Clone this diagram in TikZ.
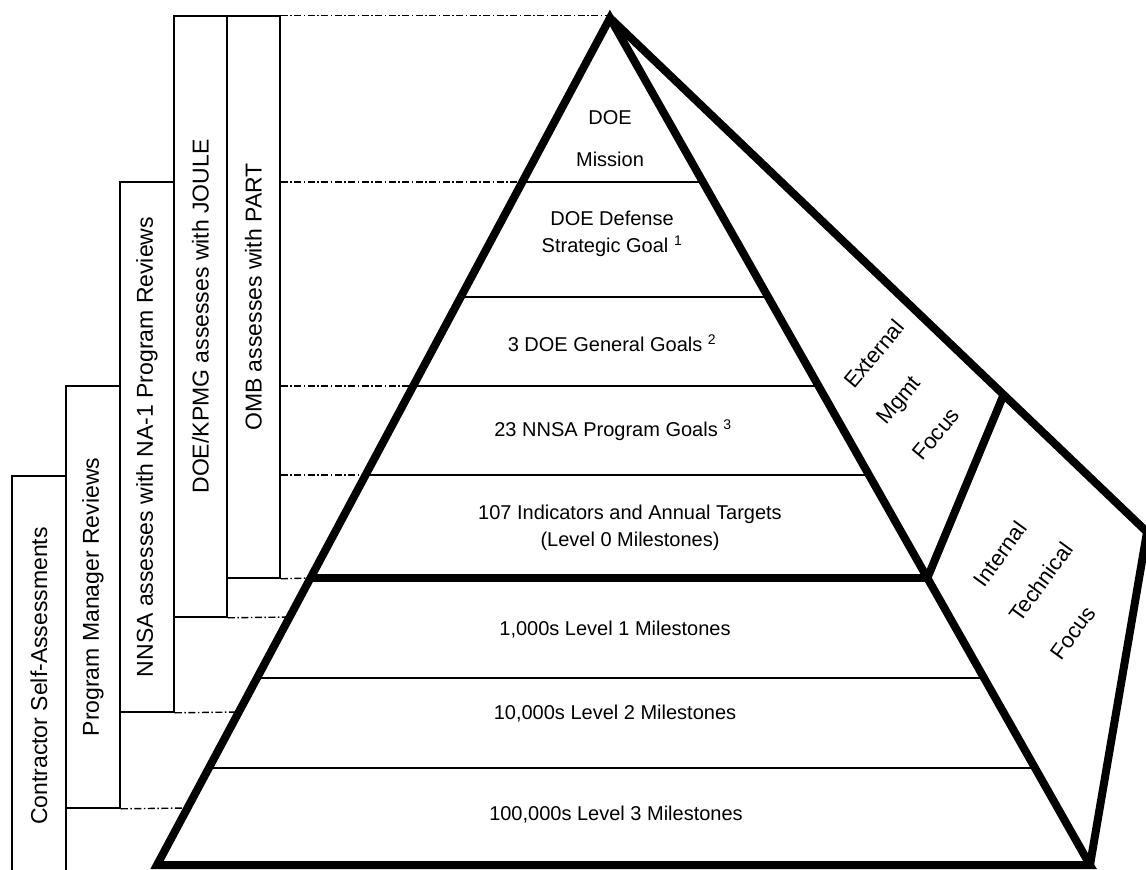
\documentclass[tikz,border=0pt]{standalone}
\usepackage{fontspec}
\setmainfont{Liberation Sans}
\usetikzlibrary{calc,positioning}

\begin{document}
\begin{tikzpicture}[x=1pt, y=-1pt, line join=miter]
\tikzstyle{assess}=[draw=black, line width=1.6pt, inner sep=0pt, font=\fontsize{23}{28}\selectfont]
\tikzstyle{level}=[align=center, font=\fontsize{20}{27}\selectfont]
\tikzstyle{focus}=[inner sep=1pt, font=\fontsize{22}{26}\selectfont]
\tikzstyle{edge}=[line width=8pt]
\tikzstyle{tier}=[line width=1.8pt]
\tikzstyle{link}=[line width=1.4pt, dash pattern=on 7pt off 2.5pt on 1.5pt off 2.5pt]

\useasboundingbox (0,0) rectangle (1146,870);

% who assesses what
\node[assess, minimum width=54, minimum height=400] (self)  at (39,676)    {\rotatebox{90}{Contractor Self-Assessments}};
\node[assess, minimum width=54, minimum height=422] (pm)    at (93,597)    {\rotatebox{90}{Program Manager Reviews}};
\node[assess, minimum width=54, minimum height=530] (nnsa)  at (147,447)   {\rotatebox{90}{NNSA assesses with NA-1 Program Reviews}};
\node[assess, minimum width=53, minimum height=601] (joule) at (200.5,316.5) {\rotatebox{90}{DOE/KPMG assesses with JOULE}};
\node[assess, minimum width=53, minimum height=562] (omb)   at (253.5,297) {\rotatebox{90}{OMB assesses with PART}};

% pyramid corners
\coordinate (apex) at (610,18);
\coordinate (bl) at (157,865);
\coordinate (br) at (1090,865);
\coordinate (rc) at (1147,532);
\coordinate (split) at ($(apex)!0.733!(rc)$);

\foreach \y [count=\i] in {182,297,386,475,578,678,768} {
  \coordinate (L\i) at ($(apex)!{(\y-18)/847}!(bl)$);
  \coordinate (R\i) at ($(apex)!{(\y-18)/847}!(br)$);
}

% dashed ties from the boxes
\draw[link] (omb.north east) -- (omb.north east -| apex);
\foreach \i in {1,3,4}
  \draw[link] (L\i -| omb.east) -- (L\i);
\draw[link] (omb.south east) -- (L5);
\foreach \b/\y in {joule/617, nnsa/712, pm/808}
  \draw[link] (\b.south east) -- ($(apex)!{(\y-18)/847}!(bl)$);

% tiers
\foreach \i in {1,2,3,4,6,7}
  \draw[tier] (L\i) -- (R\i);
\draw[edge] (L5) -- (R5);

\draw[edge] (bl) -- (apex) -- (br) -- cycle;
\draw[edge] (apex) -- (rc) -- (br);
\draw[edge] (split) -- (R5);

\node[level] (mission)    at (610,139) {DOE\\[15pt]Mission};
\node[level] (defense)    at (612,234) {DOE Defense\\Strategic Goal \textsuperscript{1}};
\node[level] (general)    at (612,343) {3 DOE General Goals \textsuperscript{2}};
\node[level] (program)    at (613,430) {23 NNSA Program Goals \textsuperscript{3}};
\node[level] (indicators) at (630,528) {107 Indicators and Annual Targets\\(Level 0 Milestones)};
\node[level] (lvl1)       at (615,630) {1,000s Level 1 Milestones};
\node[level] (lvl2)       at (615,714) {10,000s Level 2 Milestones};
\node[level] (lvl3)       at (616,815) {100,000s Level 3 Milestones};

% side faces
\foreach \t/\x/\y [count=\i] in {External/874/354, Mgmt/900/401, Focus/936/434}
  \node[focus, rotate=50] (ext\i) at (\x,\y) {\t};
\foreach \t/\x/\y [count=\i] in {Internal/1000/554, Technical/1041/582, Focus/1073/633}
  \node[focus, rotate=54] (int\i) at (\x,\y) {\t};

\end{tikzpicture}
\end{document}
